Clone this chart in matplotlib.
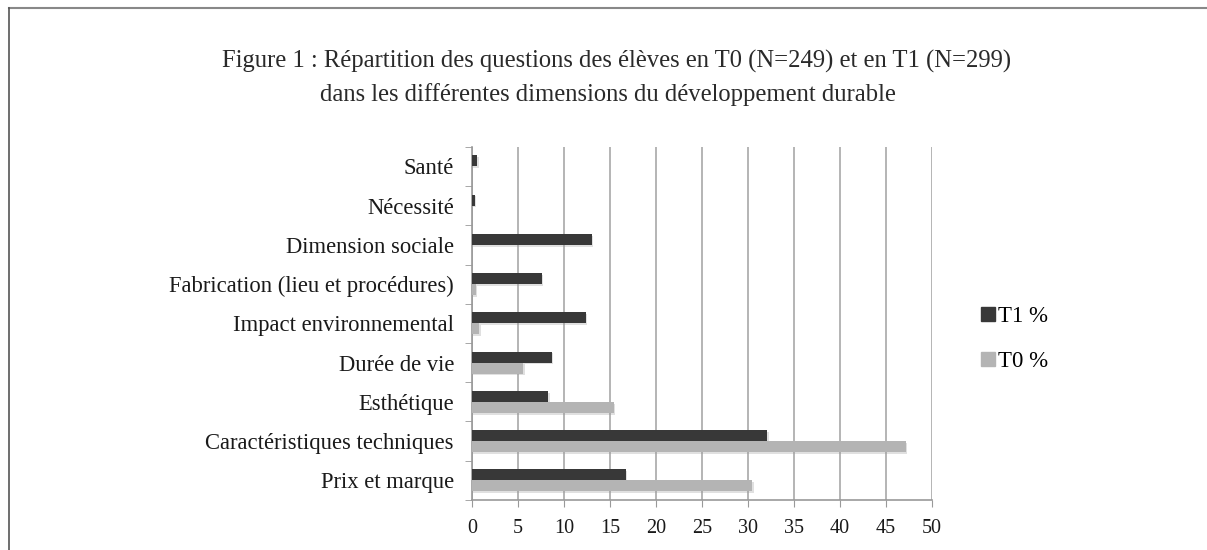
import numpy as np
import matplotlib.pyplot as plt
from matplotlib.lines import Line2D
import matplotlib.patheffects as pe

categories = ['Prix et marque', 'Caractéristiques techniques', 'Esthétique',
              'Durée de vie', 'Impact environnemental',
              'Fabrication (lieu et procédures)', 'Dimension sociale',
              'Nécessité', 'Santé']
t1 = [16.7, 32.1, 8.3, 8.7, 12.4, 7.6, 13.0, 0.3, 0.6]
t0 = [30.5, 47.2, 15.4, 5.6, 0.8, 0.4, 0.0, 0.0, 0.0]
xticks = list(range(0, 55, 5))

plt.rcParams['font.family'] = ['Liberation Serif', 'DejaVu Serif']

fig = plt.figure(figsize=(12.07, 5.5), dpi=100)
ax = fig.add_axes([0.391, 0.091, 0.381, 0.642])

shadow = [pe.SimplePatchShadow(offset=(1, -1.2), shadow_rgbFace='#999999', alpha=0.3),
          pe.Normal()]
y = np.arange(len(categories))
h = 0.28
ax.barh(y + h/2, t1, height=h, color='#383838', zorder=3, path_effects=shadow)
ax.barh(y - h/2, t0, height=h, color='#b4b4b4', zorder=3, path_effects=shadow)

ax.set_xlim(0, 50)
ax.set_ylim(-0.5, len(categories) - 0.5)
ax.set_xticks(xticks)
ax.set_yticks(y)
ax.set_yticklabels(categories)
ax.set_yticks(np.arange(-0.5, len(categories), 1), minor=True)
ax.tick_params(axis='y', which='major', length=0, pad=13, labelsize=16.3, labelcolor='#1a1a1a')
ax.tick_params(axis='y', which='minor', length=5, color='#999999')
ax.tick_params(axis='x', length=5, color='#999999', labelsize=14.5, pad=9, labelcolor='#1a1a1a')
ax.grid(axis='x', color='#a8a8a8', lw=1.2, zorder=0)
for s in ['top', 'right']:
    ax.spines[s].set_visible(False)
for s in ['left', 'bottom']:
    ax.spines[s].set_color('#999999')
    ax.spines[s].set_linewidth(1.2)

handles = [Line2D([], [], marker='s', ls='', color='#383838', markersize=10),
           Line2D([], [], marker='s', ls='', color='#b4b4b4', markersize=10)]
fig.legend(handles, ['T1 %', 'T0 %'], loc='center left', bbox_to_anchor=(0.7937, 0.384),
           frameon=False, fontsize=16.5, handletextpad=0.05, labelspacing=1.05,
           handlelength=0.8)

fig.text(0.5105, 0.888, 'Figure 1 : Répartition des questions des élèves en T0 (N=249) et en T1 (N=299)',
         ha='center', va='center', fontsize=17.7, color='#2a2a2a')
fig.text(0.504, 0.828, 'dans les différentes dimensions du développement durable',
         ha='center', va='center', fontsize=17.7, color='#2a2a2a')

# frame lines at top and left
fig.add_artist(Line2D([0.0075, 1], [0.985, 0.985], color='#888888', lw=1.5))
fig.add_artist(Line2D([0.0075, 0.0075], [0, 0.985], color='#555555', lw=1.2))

fig.savefig('out.png', dpi=100)
